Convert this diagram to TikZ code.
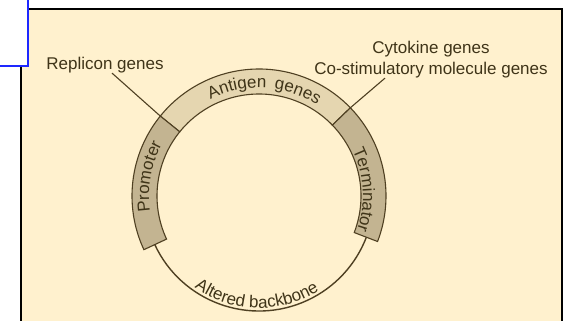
\documentclass[tikz,border=0pt]{standalone}
\usepackage{fontspec}
\setmainfont{Liberation Sans}
\usetikzlibrary{decorations.text}
\definecolor{bgc}{RGB}{255,241,206}
\definecolor{antc}{RGB}{229,214,176}
\definecolor{segc}{RGB}{195,180,145}
\definecolor{linec}{RGB}{79,64,34}
\definecolor{txtc}{RGB}{63,52,24}
\definecolor{bluec}{RGB}{30,40,255}
\newcommand{\lbl}{\fontsize{17}{20}\selectfont\color{txtc}}
\tikzset{
  segm/.style={draw=linec, line width=1.1pt},
  leader/.style={draw=linec, line width=1.1pt},
  backbone/.style={draw=linec, line width=1.4pt},
  lab/.style={inner sep=0pt, text=txtc, font=\fontsize{17}{21}\selectfont, align=center},
}
\begin{document}
\begin{tikzpicture}[x=1pt,y=1pt]
\useasboundingbox (0,0) rectangle (570,321);
\fill[white] (0,0) rectangle (570,321);
\fill[bgc] (21,0) rectangle (562,312);
\draw[black, line width=1.2pt] (21,0) -- (21,312) -- (562,312) -- (562,0);
\fill[white] (0,255) rectangle (28,321);
\draw[bluec, line width=1.3pt] (28,321) -- (28,255) -- (0,255);

\coordinate (c) at (259,125);
% antigen band
\draw[segm, fill=antc] ([shift={(141:127)}]c) arc[start angle=141, end angle=44, radius=127]
  -- ([shift={(44:102)}]c) arc[start angle=44, end angle=141, radius=102] -- cycle;
% promoter
\draw[segm, fill=segc] ([shift={(141:127)}]c) arc[start angle=141, end angle=205, radius=127]
  -- ([shift={(205:102)}]c) arc[start angle=205, end angle=141, radius=102] -- cycle;
% terminator
\draw[segm, fill=segc] ([shift={(44:127)}]c) arc[start angle=44, end angle=-21, radius=127]
  -- ([shift={(-21:102)}]c) arc[start angle=-21, end angle=44, radius=102] -- cycle;
% backbone
\draw[backbone] ([shift={(205:115)}]c) arc[start angle=205, end angle=339, radius=115];

\coordinate (pa) at ([shift={(141:127)}]c);
\coordinate (ta) at ([shift={(44:127)}]c);

% curved labels
\path[decorate, decoration={text along path, text={|\lbl|Promoter}, text align=center}]
  ([shift={(200:110)}]c) arc[start angle=200, end angle=140, radius=110];
\path[decorate, decoration={text along path, text={|\lbl|Terminator}, text align=center}]
  ([shift={(33.4:104)}]c) arc[start angle=33.4, end angle=-26.6, radius=104];
\path[decorate, decoration={text along path, text={|\lbl|Antigen}, text align=center}]
  ([shift={(121.4:108)}]c) arc[start angle=121.4, end angle=81.4, radius=108];
\path[decorate, decoration={text along path, text={|\lbl|genes}, text align=center}]
  ([shift={(89.7:108)}]c) arc[start angle=89.7, end angle=49.7, radius=108];
\path[decorate, decoration={text along path, text={|\lbl|Altered backbone}, text align=center}]
  ([shift={(228.7:112)}]c) arc[start angle=228.7, end angle=308.7, radius=112];

% straight labels
\node[lab] (rep) at (105,256) {Replicon genes};
\node[lab] (cyto) at (431,261.5) {Cytokine genes\\Co-stimulatory molecule genes};
\draw[leader] ([xshift=7pt]rep.south) -- (pa);
\draw[leader] ([xshift=-46pt]cyto.south) -- (ta);
\end{tikzpicture}
\end{document}
